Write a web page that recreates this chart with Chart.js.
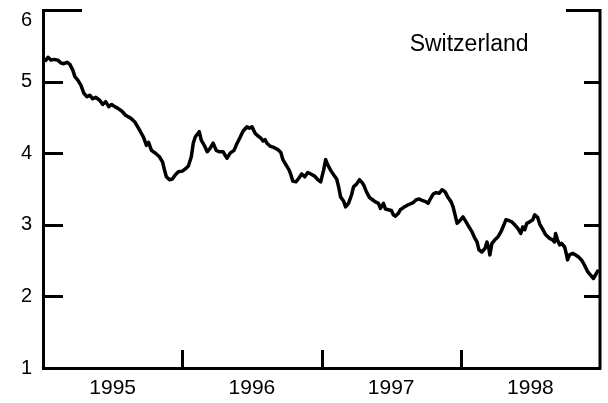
<!DOCTYPE html>
<html>
<head>
<meta charset="utf-8">
<script src="https://cdn.jsdelivr.net/npm/chart.js@4"></script>
<style>
  html, body { margin: 0; padding: 0; background: #fff; }
</style>
</head>
<body>
<canvas id="chart" width="608" height="403"></canvas>
<script>
// weekly long-term yield, decimal years
const dates = [
  1995.014, 1995.036, 1995.057, 1995.079, 1995.107, 1995.129, 1995.150, 1995.172, 1995.193, 1995.214,
  1995.229, 1995.250, 1995.272, 1995.293, 1995.315, 1995.336, 1995.357, 1995.379, 1995.407, 1995.429,
  1995.450, 1995.472, 1995.493, 1995.515, 1995.536, 1995.565, 1995.593, 1995.629, 1995.658, 1995.679,
  1995.700, 1995.722, 1995.743, 1995.758, 1995.779, 1995.808, 1995.836, 1995.858, 1995.872, 1995.886,
  1995.908, 1995.929, 1995.951, 1995.972, 1996.001, 1996.022, 1996.044, 1996.065, 1996.079, 1996.094,
  1996.122, 1996.137, 1996.158, 1996.179, 1996.201, 1996.222, 1996.244, 1996.265, 1996.294, 1996.308,
  1996.322, 1996.344, 1996.372, 1996.394, 1996.415, 1996.437, 1996.465, 1996.480, 1996.501, 1996.523,
  1996.544, 1996.565, 1996.580, 1996.594, 1996.608, 1996.630, 1996.658, 1996.687, 1996.708, 1996.723,
  1996.744, 1996.766, 1996.780, 1996.794, 1996.816, 1996.837, 1996.858, 1996.880, 1996.901, 1996.923,
  1996.951, 1996.973, 1996.994, 1997.016, 1997.030, 1997.044, 1997.066, 1997.087, 1997.109, 1997.123,
  1997.137, 1997.159, 1997.173, 1997.194, 1997.216, 1997.230, 1997.252, 1997.273, 1997.287, 1997.302,
  1997.323, 1997.345, 1997.366, 1997.387, 1997.409, 1997.423, 1997.445, 1997.459, 1997.480, 1997.502,
  1997.516, 1997.530, 1997.552, 1997.566, 1997.588, 1997.623, 1997.659, 1997.680, 1997.702, 1997.723,
  1997.752, 1997.766, 1997.781, 1997.802, 1997.823, 1997.845, 1997.866, 1997.888, 1997.909, 1997.931,
  1997.945, 1997.959, 1997.974, 1997.995, 1998.016, 1998.038, 1998.059, 1998.081, 1998.102, 1998.117,
  1998.131, 1998.152, 1998.174, 1998.188, 1998.202, 1998.209, 1998.224, 1998.245, 1998.267, 1998.288,
  1998.310, 1998.324, 1998.345, 1998.367, 1998.388, 1998.410, 1998.431, 1998.445, 1998.460, 1998.474,
  1998.495, 1998.517, 1998.531, 1998.553, 1998.567, 1998.588, 1998.610, 1998.638, 1998.660, 1998.674,
  1998.681, 1998.695, 1998.710, 1998.724, 1998.746, 1998.760, 1998.767, 1998.781, 1998.803, 1998.824,
  1998.846, 1998.867, 1998.888, 1998.910, 1998.931, 1998.953, 1998.974, 1998.989
];
const yields = [
  5.28, 5.34, 5.30, 5.31, 5.30, 5.26, 5.25, 5.27, 5.24, 5.16,
  5.07, 5.02, 4.95, 4.84, 4.79, 4.81, 4.76, 4.78, 4.74, 4.68,
  4.72, 4.65, 4.68, 4.65, 4.63, 4.59, 4.53, 4.49, 4.44, 4.37,
  4.30, 4.22, 4.11, 4.15, 4.04, 4.00, 3.95, 3.88, 3.77, 3.67,
  3.63, 3.64, 3.70, 3.74, 3.75, 3.78, 3.82, 3.95, 4.14, 4.23,
  4.30, 4.18, 4.11, 4.02, 4.07, 4.14, 4.04, 4.02, 4.02, 3.97,
  3.93, 4.00, 4.04, 4.14, 4.22, 4.31, 4.37, 4.35, 4.37, 4.28,
  4.24, 4.21, 4.17, 4.19, 4.14, 4.10, 4.08, 4.05, 4.01, 3.91,
  3.84, 3.77, 3.70, 3.61, 3.60, 3.65, 3.71, 3.67, 3.73, 3.71,
  3.68, 3.63, 3.60, 3.77, 3.91, 3.84, 3.76, 3.70, 3.64, 3.53,
  3.39, 3.33, 3.25, 3.30, 3.42, 3.53, 3.57, 3.63, 3.60, 3.56,
  3.46, 3.38, 3.35, 3.32, 3.30, 3.23, 3.30, 3.22, 3.21, 3.20,
  3.14, 3.12, 3.16, 3.21, 3.24, 3.28, 3.31, 3.35, 3.36, 3.34,
  3.32, 3.30, 3.36, 3.43, 3.45, 3.44, 3.49, 3.46, 3.38, 3.32,
  3.25, 3.14, 3.02, 3.06, 3.11, 3.04, 2.97, 2.90, 2.81, 2.76,
  2.65, 2.62, 2.67, 2.76, 2.67, 2.58, 2.74, 2.79, 2.83, 2.90,
  3.00, 3.07, 3.06, 3.04, 3.00, 2.95, 2.88, 2.97, 2.93, 3.02,
  3.04, 3.07, 3.14, 3.10, 3.01, 2.94, 2.86, 2.81, 2.79, 2.76,
  2.88, 2.79, 2.72, 2.74, 2.69, 2.58, 2.51, 2.58, 2.60, 2.58,
  2.55, 2.51, 2.44, 2.35, 2.30, 2.25, 2.32, 2.37
];
const yearLabels = [1995, 1996, 1997, 1998];
const yTicks = [1, 2, 3, 4, 5, 6];
const countryName = 'Switzerland';

const FONT = '"Liberation Sans", Arial, Helvetica, sans-serif';

// inward tick marks, right-hand frame line and the country caption
const frameDecor = {
  id: 'frameDecor',
  afterDraw(chart) {
    const { ctx, chartArea: a, scales: { x, y } } = chart;
    ctx.save();
    ctx.strokeStyle = '#000';
    ctx.lineWidth = 3;
    ctx.lineCap = 'butt';
    ctx.beginPath();
    ctx.moveTo(a.right, a.top - 1);
    ctx.lineTo(a.right, a.bottom + 1.5);
    yTicks.forEach(v => {
      const py = Math.round(y.getPixelForValue(v)) + 0.5;
      const top = v === 6;
      ctx.moveTo(a.left, py);
      ctx.lineTo(a.left + (top ? 39 : 20), py);
      ctx.moveTo(a.right, py);
      ctx.lineTo(a.right - (top ? 34 : 16), py);
    });
    yearLabels.slice(1).forEach(v => {
      const px = Math.round(x.getPixelForValue(v)) + 0.5;
      ctx.moveTo(px, a.bottom);
      ctx.lineTo(px, a.bottom - 18);
    });
    ctx.stroke();

    ctx.fillStyle = '#000';
    ctx.font = '23px ' + FONT;
    ctx.textAlign = 'center';
    ctx.textBaseline = 'middle';
    ctx.fillText(countryName, x.getPixelForValue(1998.06), y.getPixelForValue(5.51));
    ctx.restore();
  }
};

new Chart(document.getElementById('chart'), {
  type: 'line',
  data: {
    datasets: [{
      data: dates.map((d, i) => ({ x: d, y: yields[i] })),
      borderColor: '#000',
      borderWidth: 3.5,
      borderJoinStyle: 'round',
      pointRadius: 0,
      tension: 0,
      fill: false
    }]
  },
  options: {
    responsive: false,
    animation: false,
    layout: { padding: { top: 0, right: 7, left: 0, bottom: 0 } },
    plugins: {
      legend: { display: false },
      tooltip: { enabled: false }
    },
    scales: {
      x: {
        type: 'linear',
        min: 1995,
        max: 1999,
        afterFit(s) { s.height = 35; },
        grid: { display: false, drawTicks: false },
        border: { display: true, color: '#000', width: 3 },
        ticks: {
          stepSize: 0.5,
          autoSkip: false,
          maxRotation: 0,
          padding: 8,
          color: '#000',
          font: { family: FONT, size: 21 },
          callback: v => (v % 1 === 0.5 ? String(Math.floor(v)) : '')
        }
      },
      y: {
        min: 1,
        max: 6,
        afterFit(s) {
          s.width = 43;
          s.paddingTop = 10;
          s.paddingBottom = 0;
        },
        grid: { display: false, drawTicks: false },
        border: { display: true, color: '#000', width: 3 },
        ticks: {
          stepSize: 1,
          padding: 11,
          color: '#000',
          font: { family: FONT, size: 20, lineHeight: 1 },
          // top label sits just below the frame corner
          callback: v => (v === 6 ? ['', '6'] : String(v))
        }
      }
    }
  },
  plugins: [frameDecor]
});
</script>
</body>
</html>
